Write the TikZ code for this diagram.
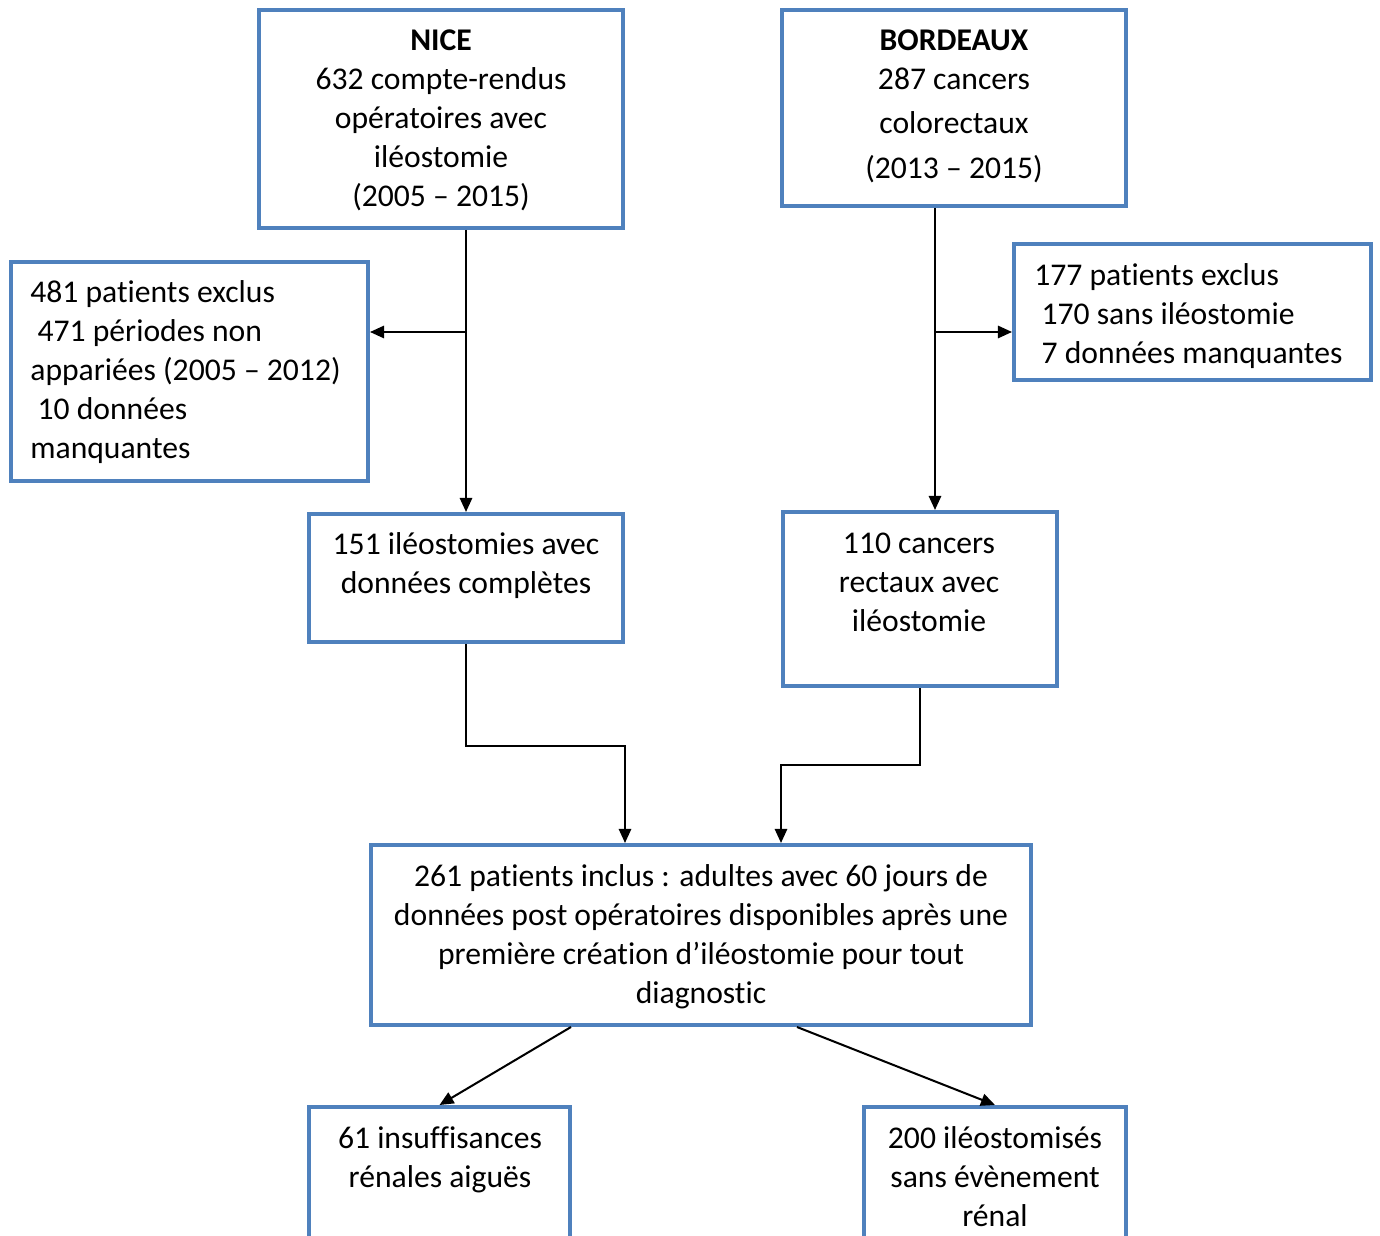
\documentclass[tikz,border=0pt]{standalone}
\usepackage{fontspec}
\setmainfont[Ligatures=NoCommon]{Carlito}
\usetikzlibrary{arrows.meta}
\definecolor{boxblue}{HTML}{4F81BD}
\begin{document}
\begin{tikzpicture}[x=0.02cm,y=-0.02cm,
  box/.style={draw=boxblue,line width=2.3pt,rectangle,inner sep=0pt,fill=none},
  txt/.style={inner sep=0pt,font=\fontsize{18}{22.2}\selectfont,text=black},
  arr/.style={line width=1.15pt,-{Triangle[length=8pt,width=7pt]}}]
\useasboundingbox (0,0) rectangle (1380,1236);
% boxes
\node[box,minimum width=7.28cm,minimum height=4.36cm] (nice) at (441,119) {};
\node[box,minimum width=6.88cm,minimum height=3.92cm] (bdx) at (954,108) {};
\node[box,minimum width=7.14cm,minimum height=4.38cm] (exL) at (189.5,371.5) {};
\node[box,minimum width=7.14cm,minimum height=2.72cm] (exR) at (1192.5,312) {};
\node[box,minimum width=6.28cm,minimum height=2.56cm] (b151) at (466,578) {};
\node[box,minimum width=5.48cm,minimum height=3.48cm] (b110) at (920,599) {};
\node[box,minimum width=13.2cm,minimum height=3.6cm] (b261) at (701,935) {};
\node[box,minimum width=5.22cm,minimum height=3.86cm] (b61) at (439.5,1203.5) {};
\node[box,minimum width=5.24cm,minimum height=3.86cm] (b200) at (995,1203.5) {};
% texts
\node[txt,align=center] (tnice) at (441,120) {\textbf{NICE}\\632 compte-rendus\\opératoires avec\\iléostomie\\(2005 – 2015)};
\node[txt,align=center] (tbdx) at (954,106) {\textbf{BORDEAUX}\\287 cancers\\[2.8pt]colorectaux\\[3.4pt](2013 – 2015)};
\node[txt,align=left,anchor=west] (texL) at (30,372.5) {481 patients exclus\\\hspace{0.23em}471 périodes non\\appariées (2005 – 2012)\\\hspace{0.23em}10 données\\manquantes};
\node[txt,align=left,anchor=west] (texR) at (1034,316) {177 patients exclus\\\hspace{0.23em}170 sans iléostomie\\\hspace{0.23em}7 données manquantes};
\node[txt,align=center] (t151) at (466,565.5) {151 iléostomies avec\\données complètes};
\node[txt,align=center] (t110) at (919,582) {110 cancers\\rectaux avec\\iléostomie};
\node[txt,align=center] (t261) at (701,936.5) {261 patients inclus : adultes avec 60 jours de\\données post opératoires disponibles après une\\première création d’iléostomie pour tout\\diagnostic};
\node[txt,align=center] (t61) at (440,1159.5) {61 insuffisances\\rénales aiguës};
\node[txt,align=center] (t200) at (995,1177) {200 iléostomisés\\sans évènement\\rénal};
% connectors
\coordinate (jL) at (466,332);
\draw[arr] (nice.south -| b151.north) -- (b151.north);
\draw[arr] (jL) -- (exL.east |- jL);
\coordinate (xR) at (935,0);
\coordinate (jR) at (935,332);
\draw[arr] (bdx.south -| xR) -- (b110.north -| xR);
\draw[arr] (jR) -- (exR.west |- jR);
\coordinate (cL) at (625,746);
\draw[arr] (b151.south) |- (cL) -- (cL |- b261.north);
\coordinate (cR) at (781,765);
\draw[arr] (b110.south) |- (cR) -- (cR |- b261.north);
\coordinate (dL) at (571,0);
\coordinate (dR) at (797,0);
\draw[arr] (b261.south -| dL) -- (b61.north);
\draw[arr] (b261.south -| dR) -- (b200.north);
\end{tikzpicture}
\end{document}
